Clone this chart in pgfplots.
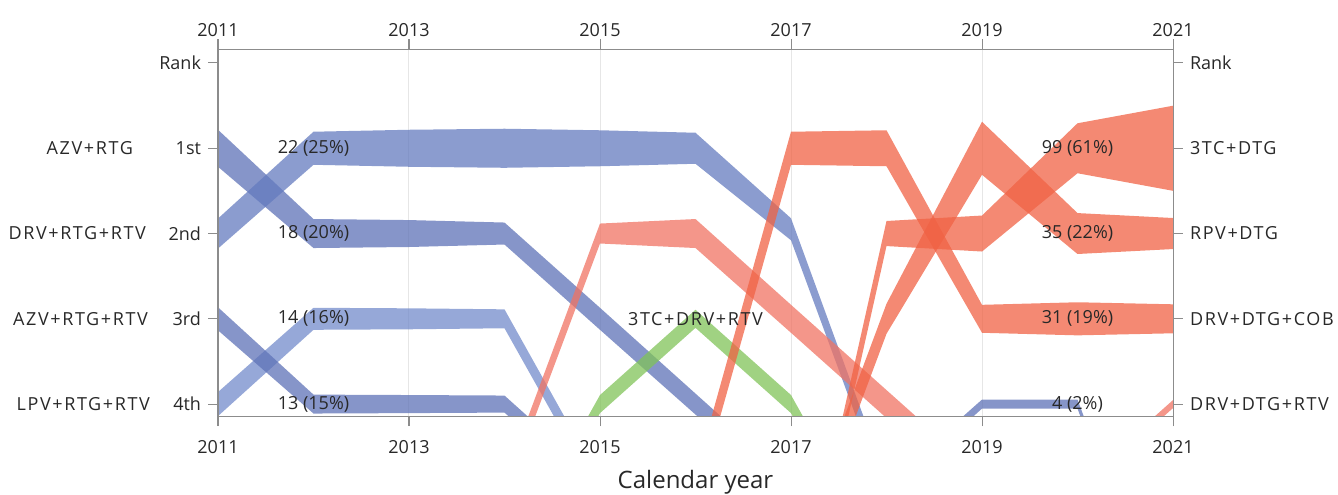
\documentclass[border=0pt]{standalone}
\usepackage{fontspec}
\setmainfont{Open Sans}
\newfontfamily\namefont[LetterSpace=9]{Open Sans}
\usepackage{pgfplots}
\pgfplotsset{compat=1.18}
\usetikzlibrary{calc}
\definecolor{bdark}{RGB}{94,114,183}
\definecolor{bmid}{RGB}{100,123,191}
\definecolor{blight}{RGB}{115,139,203}
\definecolor{gr}{RGB}{128,195,88}
\definecolor{rd}{RGB}{240,98,68}
\definecolor{sal}{RGB}{240,115,99}
\definecolor{axg}{RGB}{140,140,140}
\definecolor{txt}{RGB}{40,40,40}
\definecolor{grd}{RGB}{230,230,230}
\begin{document}
\begin{tikzpicture}
\pgfplotsset{
  base/.style={width=477.5pt,height=183.5pt,scale only axis,
    xmin=2011,xmax=2021,ymin=-0.164,ymax=4.14,y dir=reverse,
    xtick={2011,2013,2015,2017,2019,2021},
    xticklabels={2011,2013,2015,2017,2019,2021},
    ytick={0,1,2,3,4},
    xtick pos=both, ytick pos=both,
    tick align=outside, major tick length=5pt,
    axis line style={axg,line width=0.5pt},
    every tick/.style={axg,line width=0.5pt},
    tick label style={font=\fontsize{9}{10}\selectfont,text=txt},
  },
  band/.style={draw=none,fill=#1,fill opacity=0.75},
}
\begin{axis}[base, name=ax, clip mode=individual,
  xticklabel pos=lower, yticklabel pos=left,
  xticklabel style={yshift=-3.5pt},
  yticklabels={Rank,1st,2nd,3rd,4th},
  xmajorgrids, major grid style={grd,line width=0.5pt}]
% AZV+RTG
\addplot[band=bdark] coordinates {(2011,0.783)(2012,1.830)(2013,1.842)(2014,1.871)(2015,2.871)(2016,3.877)(2017,4.883)(2017,5.117)(2016,4.123)(2015,3.129)(2014,2.129)(2013,2.158)(2012,2.170)(2011,1.217)} -- cycle;
% DRV+RTG+RTV
\addplot[band=bmid] coordinates {(2011,1.824)(2012,0.806)(2013,0.783)(2014,0.771)(2015,0.789)(2016,0.818)(2017,1.821)(2018,4.883)(2018,5.117)(2017,2.079)(2016,1.182)(2015,1.211)(2014,1.229)(2013,1.217)(2012,1.194)(2011,2.176)} -- cycle;
% LPV+RTG+RTV
\addplot[band=blight] coordinates {(2011,3.859)(2012,2.871)(2013,2.877)(2014,2.889)(2015,4.894)(2015,5.106)(2014,3.111)(2013,3.123)(2012,3.129)(2011,4.141)} -- cycle;
% AZV+RTG+RTV
\addplot[band=bdark] coordinates {(2011,2.865)(2012,3.889)(2013,3.894)(2014,3.900)(2015,4.906)(2015,5.094)(2014,4.100)(2013,4.106)(2012,4.111)(2011,3.135)} -- cycle;
% 4th 2019-2020
\addplot[band=bdark] coordinates {(2018,4.941)(2019,3.947)(2020,3.947)(2021,6.947)(2021,7.053)(2020,4.053)(2019,4.053)(2018,5.059)} -- cycle;
% 3TC+DRV+RTV
\addplot[band=gr] coordinates {(2014,5.894)(2015,3.894)(2016,2.894)(2017,3.894)(2018,5.894)(2018,6.106)(2017,4.106)(2016,3.106)(2015,4.106)(2014,6.106)} -- cycle;
% salmon 2015
\addplot[band=sal] coordinates {(2014,4.894)(2015,1.883)(2016,1.830)(2017,2.836)(2018,3.836)(2019,4.836)(2019,5.164)(2018,4.164)(2017,3.164)(2016,2.170)(2015,2.117)(2014,5.106)} -- cycle;
% DRV+DTG+COB
\addplot[band=rd] coordinates {(2016,4.824)(2017,0.806)(2018,0.789)(2019,2.836)(2020,2.806)(2021,2.830)(2021,3.170)(2020,3.194)(2019,3.164)(2018,1.211)(2017,1.194)(2016,5.176)} -- cycle;
% 3TC+DTG
\addplot[band=rd] coordinates {(2017,6.853)(2018,1.853)(2019,1.789)(2020,0.707)(2021,0.501)(2021,1.499)(2020,1.293)(2019,2.211)(2018,2.147)(2017,7.147)} -- cycle;
% RPV+DTG
\addplot[band=rd] coordinates {(2017,5.824)(2018,2.824)(2019,0.689)(2020,1.760)(2021,1.818)(2021,2.182)(2020,2.240)(2019,1.311)(2018,3.176)(2017,6.176)} -- cycle;
% DRV+DTG+RTV
\addplot[band=sal] coordinates {(2020,4.953)(2021,3.953)(2021,4.047)(2020,5.047)} -- cycle;
% texts
\begin{scope}[every node/.style={font=\fontsize{9}{10}\selectfont,text=txt}]
\node at (axis cs:2012,1) {22 (25\%)};
\node at (axis cs:2012,2) {18 (20\%)};
\node at (axis cs:2012,3) {14 (16\%)};
\node at (axis cs:2012,4) {13 (15\%)};
\node at (axis cs:2020,1) {99 (61\%)};
\node at (axis cs:2020,2) {35 (22\%)};
\node at (axis cs:2020,3) {31 (19\%)};
\node at (axis cs:2020,4) {4 (2\%)};
\end{scope}
\begin{scope}[every node/.style={font={\namefont\fontsize{9}{10}\selectfont},text=txt}]
\node at (axis cs:2016,3) {3TC+DRV+RTV};
\node[anchor=east] at (axis cs:2010.183,1) {AZV+RTG};
\node[anchor=east] at (axis cs:2010.319,2) {DRV+RTG+RTV};
\node[anchor=east] at (axis cs:2010.340,3) {AZV+RTG+RTV};
\node[anchor=east] at (axis cs:2010.361,4) {LPV+RTG+RTV};
\end{scope}
\node[anchor=base,font=\fontsize{12}{14}\selectfont,text=txt] at (axis cs:2016,4.985) {Calendar year};
\end{axis}
\begin{axis}[base, xticklabel pos=upper, yticklabel pos=right,
  xticklabel style={yshift=-2.5pt},
  yticklabels={Rank,{\namefont 3TC+DTG},{\namefont RPV+DTG},{\namefont DRV+DTG+COB},{\namefont DRV+DTG+RTV}}]
\end{axis}
\pgfresetboundingbox
\path[use as bounding box] ($(ax.south west)+(-109pt,-39pt)$) rectangle ($(ax.south west)+(560pt,208pt)$);
\end{tikzpicture}
\end{document}
